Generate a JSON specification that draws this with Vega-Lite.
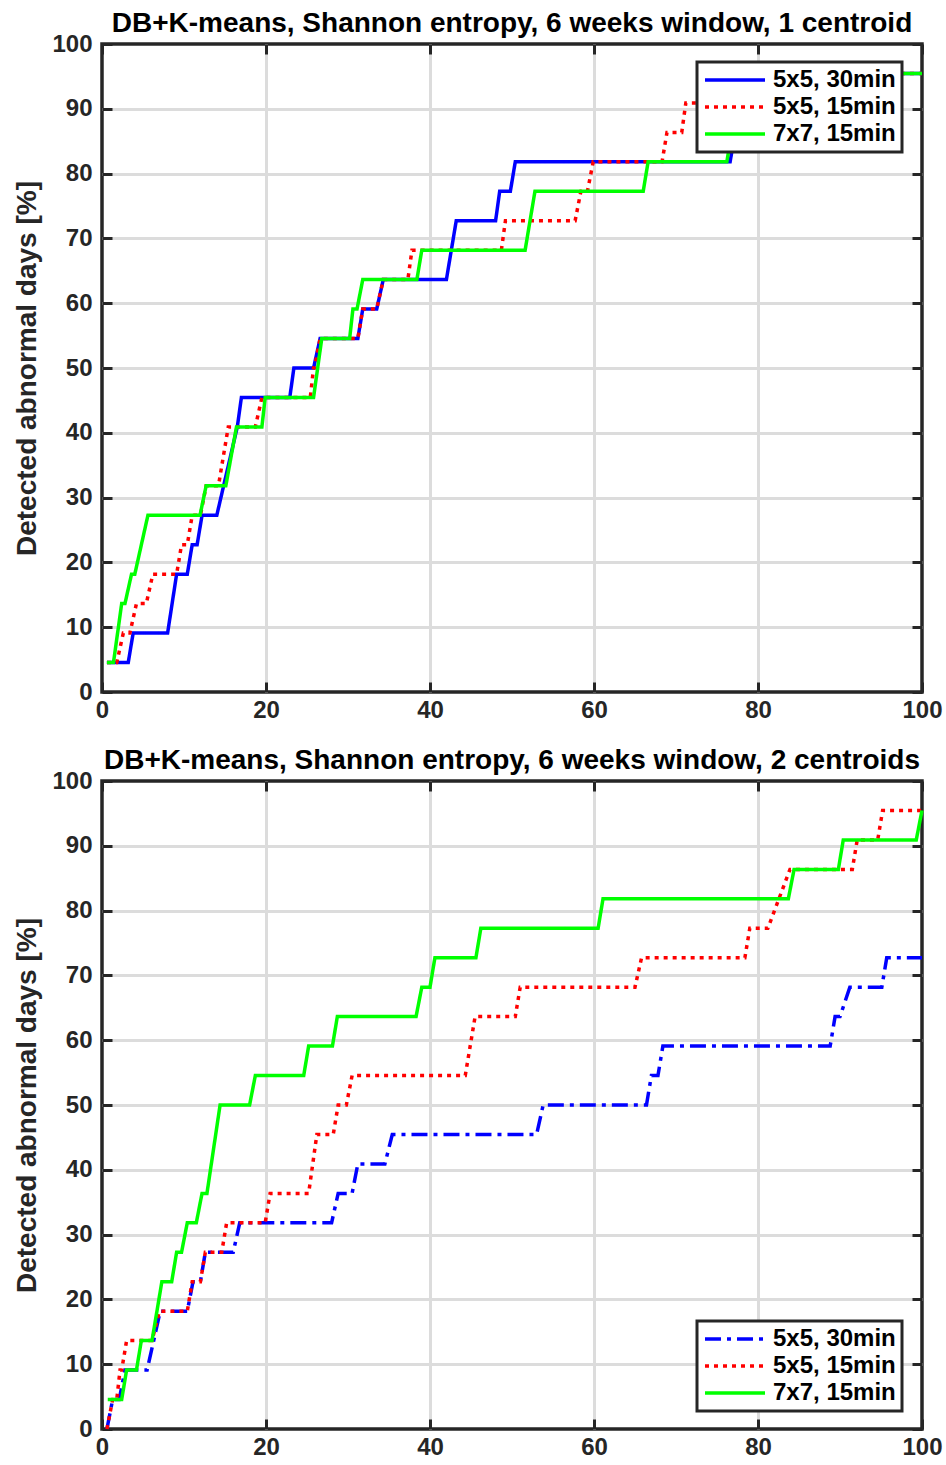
{
  "$schema": "https://vega.github.io/schema/vega-lite/v6.json",
  "background": "white",
  "padding": {"left": 12, "top": 8, "right": 4, "bottom": 4},
  "spacing": 21,
  "config": {
    "view": {"stroke": "#262626", "strokeWidth": 3.5},
    "legend": {
      "title": null,
      "symbolType": "M-1,0H5",
      "symbolSize": 400,
      "symbolStrokeWidth": 3.5,
      "labelFontSize": 24,
      "labelFont": "Liberation Sans",
      "labelFontWeight": "bold",
      "labelColor": "#000000",
      "fillColor": "white",
      "strokeColor": "#262626",
      "strokeWidth": 3,
      "padding": 6,
      "rowPadding": 3,
      "labelOffset": 46
    }
  },
  "datasets": {
    "top": [
      {"s":"5x5, 30min","x":0.6,"y":4.55},{"s":"5x5, 30min","x":3.2,"y":4.55},{"s":"5x5, 30min","x":3.8,"y":9.09},{"s":"5x5, 30min","x":8.0,"y":9.09},{"s":"5x5, 30min","x":9.1,"y":18.18},{"s":"5x5, 30min","x":10.4,"y":18.18},{"s":"5x5, 30min","x":11.0,"y":22.73},{"s":"5x5, 30min","x":11.6,"y":22.73},{"s":"5x5, 30min","x":12.2,"y":27.27},{"s":"5x5, 30min","x":14.0,"y":27.27},{"s":"5x5, 30min","x":16.5,"y":40.91},{"s":"5x5, 30min","x":17.0,"y":45.45},{"s":"5x5, 30min","x":22.9,"y":45.45},{"s":"5x5, 30min","x":23.4,"y":50},{"s":"5x5, 30min","x":25.8,"y":50},{"s":"5x5, 30min","x":26.6,"y":54.55},{"s":"5x5, 30min","x":31.2,"y":54.55},{"s":"5x5, 30min","x":31.8,"y":59.09},{"s":"5x5, 30min","x":33.5,"y":59.09},{"s":"5x5, 30min","x":34.3,"y":63.64},{"s":"5x5, 30min","x":42.0,"y":63.64},{"s":"5x5, 30min","x":43.2,"y":72.73},{"s":"5x5, 30min","x":48.0,"y":72.73},{"s":"5x5, 30min","x":48.5,"y":77.27},{"s":"5x5, 30min","x":49.8,"y":77.27},{"s":"5x5, 30min","x":50.4,"y":81.82},{"s":"5x5, 30min","x":76.6,"y":81.82},{"s":"5x5, 30min","x":77.2,"y":86.36},{"s":"5x5, 30min","x":77.8,"y":86.36},{"s":"5x5, 30min","x":78.4,"y":90.91},{"s":"5x5, 30min","x":79.2,"y":90.91},{"s":"5x5, 30min","x":79.8,"y":95.45},{"s":"5x5, 30min","x":100,"y":95.45},
      {"s":"5x5, 15min","x":0.6,"y":4.55},{"s":"5x5, 15min","x":1.8,"y":4.55},{"s":"5x5, 15min","x":2.6,"y":9.09},{"s":"5x5, 15min","x":3.4,"y":9.09},{"s":"5x5, 15min","x":4.2,"y":13.64},{"s":"5x5, 15min","x":5.4,"y":13.64},{"s":"5x5, 15min","x":6.2,"y":18.18},{"s":"5x5, 15min","x":9.1,"y":18.18},{"s":"5x5, 15min","x":9.7,"y":22.73},{"s":"5x5, 15min","x":10.4,"y":22.73},{"s":"5x5, 15min","x":11.0,"y":27.27},{"s":"5x5, 15min","x":12.0,"y":27.27},{"s":"5x5, 15min","x":12.7,"y":31.82},{"s":"5x5, 15min","x":14.2,"y":31.82},{"s":"5x5, 15min","x":15.4,"y":40.91},{"s":"5x5, 15min","x":18.7,"y":40.91},{"s":"5x5, 15min","x":19.5,"y":45.45},{"s":"5x5, 15min","x":25.4,"y":45.45},{"s":"5x5, 15min","x":25.8,"y":50},{"s":"5x5, 15min","x":25.9,"y":50},{"s":"5x5, 15min","x":26.6,"y":54.55},{"s":"5x5, 15min","x":31.2,"y":54.55},{"s":"5x5, 15min","x":31.8,"y":59.09},{"s":"5x5, 15min","x":33.5,"y":59.09},{"s":"5x5, 15min","x":34.3,"y":63.64},{"s":"5x5, 15min","x":37.3,"y":63.64},{"s":"5x5, 15min","x":37.8,"y":68.18},{"s":"5x5, 15min","x":48.7,"y":68.18},{"s":"5x5, 15min","x":49.2,"y":72.73},{"s":"5x5, 15min","x":57.7,"y":72.73},{"s":"5x5, 15min","x":58.4,"y":77.27},{"s":"5x5, 15min","x":59.2,"y":77.27},{"s":"5x5, 15min","x":59.9,"y":81.82},{"s":"5x5, 15min","x":68.3,"y":81.82},{"s":"5x5, 15min","x":68.9,"y":86.36},{"s":"5x5, 15min","x":70.7,"y":86.36},{"s":"5x5, 15min","x":71.2,"y":90.91},{"s":"5x5, 15min","x":74.5,"y":90.91},{"s":"5x5, 15min","x":75.1,"y":95.45},{"s":"5x5, 15min","x":100,"y":95.45},
      {"s":"7x7, 15min","x":0.6,"y":4.55},{"s":"7x7, 15min","x":1.4,"y":4.55},{"s":"7x7, 15min","x":2.4,"y":13.64},{"s":"7x7, 15min","x":2.8,"y":13.64},{"s":"7x7, 15min","x":3.6,"y":18.18},{"s":"7x7, 15min","x":4.0,"y":18.18},{"s":"7x7, 15min","x":5.6,"y":27.27},{"s":"7x7, 15min","x":11.95,"y":27.27},{"s":"7x7, 15min","x":12.7,"y":31.82},{"s":"7x7, 15min","x":15.1,"y":31.82},{"s":"7x7, 15min","x":16.4,"y":40.91},{"s":"7x7, 15min","x":19.5,"y":40.91},{"s":"7x7, 15min","x":19.9,"y":45.45},{"s":"7x7, 15min","x":25.8,"y":45.45},{"s":"7x7, 15min","x":26.8,"y":54.55},{"s":"7x7, 15min","x":30.2,"y":54.55},{"s":"7x7, 15min","x":30.6,"y":59.09},{"s":"7x7, 15min","x":31.1,"y":59.09},{"s":"7x7, 15min","x":31.8,"y":63.64},{"s":"7x7, 15min","x":38.4,"y":63.64},{"s":"7x7, 15min","x":39.0,"y":68.18},{"s":"7x7, 15min","x":51.6,"y":68.18},{"s":"7x7, 15min","x":52.8,"y":77.27},{"s":"7x7, 15min","x":66.0,"y":77.27},{"s":"7x7, 15min","x":66.6,"y":81.82},{"s":"7x7, 15min","x":76.2,"y":81.82},{"s":"7x7, 15min","x":76.8,"y":86.36},{"s":"7x7, 15min","x":78.5,"y":86.36},{"s":"7x7, 15min","x":79.1,"y":90.91},{"s":"7x7, 15min","x":80.5,"y":90.91},{"s":"7x7, 15min","x":81.1,"y":95.45},{"s":"7x7, 15min","x":100,"y":95.45}
    ],
    "bot": [
      {"s":"5x5, 30min","x":0.6,"y":0},{"s":"5x5, 30min","x":1.3,"y":4.55},{"s":"5x5, 30min","x":2.1,"y":4.55},{"s":"5x5, 30min","x":2.8,"y":9.09},{"s":"5x5, 30min","x":5.5,"y":9.09},{"s":"5x5, 30min","x":7.1,"y":18.18},{"s":"5x5, 30min","x":10.4,"y":18.18},{"s":"5x5, 30min","x":11.1,"y":22.73},{"s":"5x5, 30min","x":12.0,"y":22.73},{"s":"5x5, 30min","x":12.6,"y":27.27},{"s":"5x5, 30min","x":16.0,"y":27.27},{"s":"5x5, 30min","x":16.8,"y":31.82},{"s":"5x5, 30min","x":28.0,"y":31.82},{"s":"5x5, 30min","x":28.8,"y":36.36},{"s":"5x5, 30min","x":30.5,"y":36.36},{"s":"5x5, 30min","x":31.2,"y":40.91},{"s":"5x5, 30min","x":34.5,"y":40.91},{"s":"5x5, 30min","x":35.4,"y":45.45},{"s":"5x5, 30min","x":53.0,"y":45.45},{"s":"5x5, 30min","x":53.8,"y":50},{"s":"5x5, 30min","x":66.4,"y":50},{"s":"5x5, 30min","x":67.0,"y":54.55},{"s":"5x5, 30min","x":67.8,"y":54.55},{"s":"5x5, 30min","x":68.4,"y":59.09},{"s":"5x5, 30min","x":88.8,"y":59.09},{"s":"5x5, 30min","x":89.4,"y":63.64},{"s":"5x5, 30min","x":90.0,"y":63.64},{"s":"5x5, 30min","x":91.2,"y":68.18},{"s":"5x5, 30min","x":95.1,"y":68.18},{"s":"5x5, 30min","x":95.7,"y":72.73},{"s":"5x5, 30min","x":100,"y":72.73},
      {"s":"5x5, 15min","x":0.6,"y":0},{"s":"5x5, 15min","x":1.3,"y":4.55},{"s":"5x5, 15min","x":1.8,"y":4.55},{"s":"5x5, 15min","x":2.2,"y":9.09},{"s":"5x5, 15min","x":2.4,"y":9.09},{"s":"5x5, 15min","x":3.0,"y":13.64},{"s":"5x5, 15min","x":6.1,"y":13.64},{"s":"5x5, 15min","x":7.0,"y":18.18},{"s":"5x5, 15min","x":10.4,"y":18.18},{"s":"5x5, 15min","x":11.0,"y":22.73},{"s":"5x5, 15min","x":12.0,"y":22.73},{"s":"5x5, 15min","x":12.6,"y":27.27},{"s":"5x5, 15min","x":14.6,"y":27.27},{"s":"5x5, 15min","x":15.2,"y":31.82},{"s":"5x5, 15min","x":19.9,"y":31.82},{"s":"5x5, 15min","x":20.5,"y":36.36},{"s":"5x5, 15min","x":25.2,"y":36.36},{"s":"5x5, 15min","x":26.2,"y":45.45},{"s":"5x5, 15min","x":28.2,"y":45.45},{"s":"5x5, 15min","x":28.8,"y":50},{"s":"5x5, 15min","x":29.8,"y":50},{"s":"5x5, 15min","x":30.5,"y":54.55},{"s":"5x5, 15min","x":44.3,"y":54.55},{"s":"5x5, 15min","x":45.5,"y":63.64},{"s":"5x5, 15min","x":50.4,"y":63.64},{"s":"5x5, 15min","x":51.0,"y":68.18},{"s":"5x5, 15min","x":65.0,"y":68.18},{"s":"5x5, 15min","x":65.8,"y":72.73},{"s":"5x5, 15min","x":78.4,"y":72.73},{"s":"5x5, 15min","x":79.0,"y":77.27},{"s":"5x5, 15min","x":81.2,"y":77.27},{"s":"5x5, 15min","x":83.9,"y":86.36},{"s":"5x5, 15min","x":91.5,"y":86.36},{"s":"5x5, 15min","x":92.1,"y":90.91},{"s":"5x5, 15min","x":94.6,"y":90.91},{"s":"5x5, 15min","x":95.2,"y":95.45},{"s":"5x5, 15min","x":100,"y":95.45},
      {"s":"7x7, 15min","x":0.7,"y":4.55},{"s":"7x7, 15min","x":2.4,"y":4.55},{"s":"7x7, 15min","x":3.0,"y":9.09},{"s":"7x7, 15min","x":4.2,"y":9.09},{"s":"7x7, 15min","x":4.8,"y":13.64},{"s":"7x7, 15min","x":6.1,"y":13.64},{"s":"7x7, 15min","x":7.3,"y":22.73},{"s":"7x7, 15min","x":8.5,"y":22.73},{"s":"7x7, 15min","x":9.1,"y":27.27},{"s":"7x7, 15min","x":9.7,"y":27.27},{"s":"7x7, 15min","x":10.4,"y":31.82},{"s":"7x7, 15min","x":11.5,"y":31.82},{"s":"7x7, 15min","x":12.2,"y":36.36},{"s":"7x7, 15min","x":12.8,"y":36.36},{"s":"7x7, 15min","x":14.4,"y":50},{"s":"7x7, 15min","x":18.0,"y":50},{"s":"7x7, 15min","x":18.7,"y":54.55},{"s":"7x7, 15min","x":24.6,"y":54.55},{"s":"7x7, 15min","x":25.2,"y":59.09},{"s":"7x7, 15min","x":28.1,"y":59.09},{"s":"7x7, 15min","x":28.7,"y":63.64},{"s":"7x7, 15min","x":38.3,"y":63.64},{"s":"7x7, 15min","x":39.0,"y":68.18},{"s":"7x7, 15min","x":40.0,"y":68.18},{"s":"7x7, 15min","x":40.6,"y":72.73},{"s":"7x7, 15min","x":45.6,"y":72.73},{"s":"7x7, 15min","x":46.2,"y":77.27},{"s":"7x7, 15min","x":60.5,"y":77.27},{"s":"7x7, 15min","x":61.1,"y":81.82},{"s":"7x7, 15min","x":83.7,"y":81.82},{"s":"7x7, 15min","x":84.4,"y":86.36},{"s":"7x7, 15min","x":89.8,"y":86.36},{"s":"7x7, 15min","x":90.4,"y":90.91},{"s":"7x7, 15min","x":99.3,"y":90.91},{"s":"7x7, 15min","x":100,"y":95.45}
    ]
  },
  "resolve": {
    "scale": {"color": "independent", "strokeDash": "independent"},
    "legend": {"color": "independent", "strokeDash": "independent"}
  },
  "vconcat": [
    {
      "title": {"text": "DB+K-means, Shannon entropy, 6 weeks window, 1 centroid", "fontSize": 28, "font": "Liberation Sans", "fontWeight": "bold", "color": "#000000", "anchor": "middle", "frame": "group", "offset": -6},
      "width": 820,
      "height": 648,
      "data": {"name": "top"},
      "encoding": {
        "x": {"field": "x", "type": "quantitative", "scale": {"domain": [0, 100], "nice": false}},
        "y": {"field": "y", "type": "quantitative", "scale": {"domain": [0, 100], "nice": false}},
        "color": {"field": "s", "type": "nominal", "scale": {"domain": ["5x5, 30min", "5x5, 15min", "7x7, 15min"], "range": ["#0000ff", "#ff0000", "#00ff00"]}, "legend": {"orient": "none", "legendX": 595, "legendY": 18}},
        "strokeDash": {"field": "s", "type": "nominal", "scale": {"domain": ["5x5, 30min", "5x5, 15min", "7x7, 15min"], "range": [[1, 0], [4, 5], [1, 0]]}, "legend": {"orient": "none", "legendX": 595, "legendY": 18}}
      },
      "layer": [
        {
          "transform": [{"filter": "datum.s === '5x5, 30min'"}],
          "mark": {"type": "line", "strokeWidth": 3.5, "strokeCap": "butt"},
          "encoding": {
            "x": {"field": "x", "type": "quantitative", "axis": {"orient": "bottom", "values": [0, 20, 40, 60, 80, 100], "grid": true, "gridColor": "#dcdcdc", "gridWidth": 3, "gridOpacity": {"condition": {"test": "datum.value === 0 || datum.value === 100", "value": 0}, "value": 1}, "domain": false, "ticks": true, "tickSize": -10, "tickWidth": 3, "tickColor": "#262626", "labelFontSize": 24, "labelFont": "Liberation Sans", "labelFontWeight": "bold", "labelColor": "#262626", "labelPadding": 16, "labelFlush": false, "labelOverlap": false, "title": null}},
            "y": {"field": "y", "type": "quantitative", "axis": {"orient": "left", "values": [0, 10, 20, 30, 40, 50, 60, 70, 80, 90, 100], "grid": true, "gridColor": "#dcdcdc", "gridWidth": 3, "gridOpacity": {"condition": {"test": "datum.value === 0 || datum.value === 100", "value": 0}, "value": 1}, "domain": false, "ticks": true, "tickSize": -10, "tickWidth": 3, "tickColor": "#262626", "labelFontSize": 24, "labelFont": "Liberation Sans", "labelFontWeight": "bold", "labelColor": "#262626", "labelPadding": 20, "labelFlush": false, "labelOverlap": false, "title": "Detected abnormal days [%]", "titleFontSize": 28, "titleFont": "Liberation Sans", "titleFontWeight": "bold", "titleColor": "#262626", "titlePadding": 10}}
          }
        },
        {
          "transform": [{"filter": "datum.s === '5x5, 15min'"}],
          "mark": {"type": "line", "strokeWidth": 3.5, "strokeCap": "butt"},
          "encoding": {
            "x": {"field": "x", "type": "quantitative", "axis": {"orient": "top", "values": [0, 20, 40, 60, 80, 100], "grid": false, "domain": false, "labels": false, "ticks": true, "tickSize": -10, "tickWidth": 3, "tickColor": "#262626", "title": null}},
            "y": {"field": "y", "type": "quantitative", "axis": {"orient": "right", "values": [0, 10, 20, 30, 40, 50, 60, 70, 80, 90, 100], "grid": false, "domain": false, "labels": false, "ticks": true, "tickSize": -10, "tickWidth": 3, "tickColor": "#262626", "title": null}}
          }
        },
        {
          "transform": [{"filter": "datum.s === '7x7, 15min'"}],
          "mark": {"type": "line", "strokeWidth": 3.5, "strokeCap": "butt"},
          "encoding": {
            "x": {"field": "x", "type": "quantitative", "axis": null},
            "y": {"field": "y", "type": "quantitative", "axis": null}
          }
        }
      ],
      "resolve": {"axis": {"x": "independent", "y": "independent"}}
    },
    {
      "title": {"text": "DB+K-means, Shannon entropy, 6 weeks window, 2 centroids", "fontSize": 28, "font": "Liberation Sans", "fontWeight": "bold", "color": "#000000", "anchor": "middle", "frame": "group", "offset": -6},
      "width": 820,
      "height": 648,
      "data": {"name": "bot"},
      "encoding": {
        "x": {"field": "x", "type": "quantitative", "scale": {"domain": [0, 100], "nice": false}},
        "y": {"field": "y", "type": "quantitative", "scale": {"domain": [0, 100], "nice": false}},
        "color": {"field": "s", "type": "nominal", "scale": {"domain": ["5x5, 30min", "5x5, 15min", "7x7, 15min"], "range": ["#0000ff", "#ff0000", "#00ff00"]}, "legend": {"orient": "none", "legendX": 595, "legendY": 540}},
        "strokeDash": {"field": "s", "type": "nominal", "scale": {"domain": ["5x5, 30min", "5x5, 15min", "7x7, 15min"], "range": [[16, 6, 4, 6], [4, 5], [1, 0]]}, "legend": {"orient": "none", "legendX": 595, "legendY": 540}}
      },
      "layer": [
        {
          "transform": [{"filter": "datum.s === '5x5, 30min'"}],
          "mark": {"type": "line", "strokeWidth": 3.5, "strokeCap": "butt"},
          "encoding": {
            "x": {"field": "x", "type": "quantitative", "axis": {"orient": "bottom", "values": [0, 20, 40, 60, 80, 100], "grid": true, "gridColor": "#dcdcdc", "gridWidth": 3, "gridOpacity": {"condition": {"test": "datum.value === 0 || datum.value === 100", "value": 0}, "value": 1}, "domain": false, "ticks": true, "tickSize": -10, "tickWidth": 3, "tickColor": "#262626", "labelFontSize": 24, "labelFont": "Liberation Sans", "labelFontWeight": "bold", "labelColor": "#262626", "labelPadding": 16, "labelFlush": false, "labelOverlap": false, "title": null}},
            "y": {"field": "y", "type": "quantitative", "axis": {"orient": "left", "values": [0, 10, 20, 30, 40, 50, 60, 70, 80, 90, 100], "grid": true, "gridColor": "#dcdcdc", "gridWidth": 3, "gridOpacity": {"condition": {"test": "datum.value === 0 || datum.value === 100", "value": 0}, "value": 1}, "domain": false, "ticks": true, "tickSize": -10, "tickWidth": 3, "tickColor": "#262626", "labelFontSize": 24, "labelFont": "Liberation Sans", "labelFontWeight": "bold", "labelColor": "#262626", "labelPadding": 20, "labelFlush": false, "labelOverlap": false, "title": "Detected abnormal days [%]", "titleFontSize": 28, "titleFont": "Liberation Sans", "titleFontWeight": "bold", "titleColor": "#262626", "titlePadding": 10}}
          }
        },
        {
          "transform": [{"filter": "datum.s === '5x5, 15min'"}],
          "mark": {"type": "line", "strokeWidth": 3.5, "strokeCap": "butt"},
          "encoding": {
            "x": {"field": "x", "type": "quantitative", "axis": {"orient": "top", "values": [0, 20, 40, 60, 80, 100], "grid": false, "domain": false, "labels": false, "ticks": true, "tickSize": -10, "tickWidth": 3, "tickColor": "#262626", "title": null}},
            "y": {"field": "y", "type": "quantitative", "axis": {"orient": "right", "values": [0, 10, 20, 30, 40, 50, 60, 70, 80, 90, 100], "grid": false, "domain": false, "labels": false, "ticks": true, "tickSize": -10, "tickWidth": 3, "tickColor": "#262626", "title": null}}
          }
        },
        {
          "transform": [{"filter": "datum.s === '7x7, 15min'"}],
          "mark": {"type": "line", "strokeWidth": 3.5, "strokeCap": "butt"},
          "encoding": {
            "x": {"field": "x", "type": "quantitative", "axis": null},
            "y": {"field": "y", "type": "quantitative", "axis": null}
          }
        }
      ],
      "resolve": {"axis": {"x": "independent", "y": "independent"}}
    }
  ]
}
